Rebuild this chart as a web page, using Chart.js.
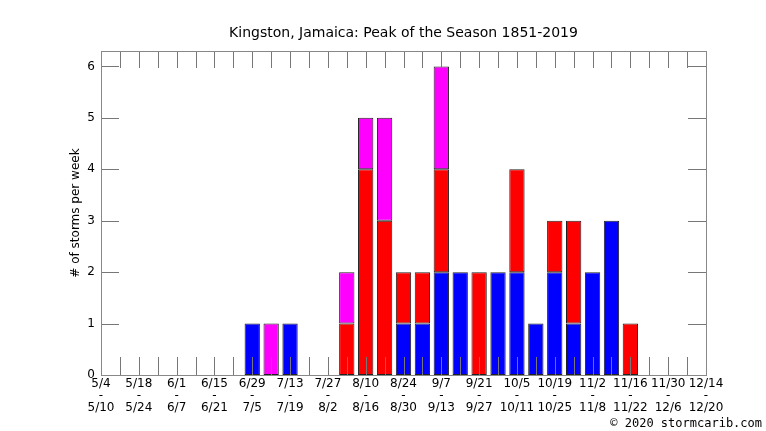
<!DOCTYPE html>
<html>
<head>
<meta charset="utf-8">
<script src="https://cdn.jsdelivr.net/npm/chart.js@4.4.1/dist/chart.umd.min.js"></script>
<style>
html,body{margin:0;padding:0;background:#fff;}
#wrap{width:766px;height:431px;position:relative;}
</style>
</head>
<body>
<div id="wrap"><canvas id="c" width="766" height="431"></canvas></div>
<script>
const weekStarts = ['5/4','5/11','5/18','5/25','6/1','6/8','6/15','6/22','6/29','7/6','7/13','7/20','7/27','8/3','8/10','8/17','8/24','8/31','9/7','9/14','9/21','9/28','10/5','10/12','10/19','10/26','11/2','11/9','11/16','11/23','11/30','12/7','12/14'];
const weekEnds = ['5/10','5/17','5/24','5/31','6/7','6/14','6/21','6/28','7/5','7/12','7/19','7/26','8/2','8/9','8/16','8/23','8/30','9/6','9/13','9/20','9/27','10/4','10/11','10/18','10/25','11/1','11/8','11/15','11/22','11/29','12/6','12/13','12/20'];
const blueCounts    = [0,0,0,0,0,0,0,0,1,0,1,0,0,0,0,0,1,1,2,2,0,2,2,1,2,1,2,3,0,0,0,0,0];
const redCounts     = [0,0,0,0,0,0,0,0,0,0,0,0,0,1,4,3,1,1,2,0,2,0,2,0,1,2,0,0,1,0,0,0,0];
const magentaCounts = [0,0,0,0,0,0,0,0,0,1,0,0,0,1,1,2,0,0,2,0,0,0,0,0,0,0,0,0,0,0,0,0,0];
const yTickValues = [0,1,2,3,4,5,6];
const chartTitle = 'Kingston, Jamaica: Peak of the Season 1851-2019';
const yTitle = '# of storms per week';
const credit = '\u00a9 2020 stormcarib.com';

const nz = a => a.map(v => v === 0 ? null : v);

const framePlugin = {
  id: 'frame',
  afterDatasetsDraw(chart) {
    const {ctx, chartArea: a, scales: {x, y}} = chart;
    ctx.save();
    ctx.strokeStyle = '#777';
    ctx.lineWidth = 1;
    ctx.beginPath();
    const n = weekStarts.length;
    for (let i = 0; i < n; i++) {
      const px = Math.round(x.getPixelForValue(i)) + 0.5;
      ctx.moveTo(px, a.bottom); ctx.lineTo(px, a.bottom - 18);
      ctx.moveTo(px, a.top); ctx.lineTo(px, a.top + 17);
    }
    yTickValues.forEach(v => {
      const py = Math.round(y.getPixelForValue(v)) + 0.5;
      ctx.moveTo(a.left, py); ctx.lineTo(a.left + 18, py);
      ctx.moveTo(a.right, py); ctx.lineTo(a.right - 18, py);
    });
    ctx.stroke();
    ctx.strokeStyle = '#888';
    ctx.strokeRect(Math.round(a.left) + 0.5, Math.round(a.top) + 0.5, Math.round(a.right - a.left), Math.round(a.bottom - a.top));
    ctx.fillStyle = '#000';
    ctx.textBaseline = 'middle';
    ctx.textAlign = 'center';
    ctx.font = '14px "DejaVu Sans"';
    ctx.fillText(chartTitle, (a.left + a.right) / 2, 33);
    ctx.font = '12px "DejaVu Sans Mono"';
    ctx.textAlign = 'right';
    ctx.fillText(credit, 762, 424);
    ctx.restore();
  }
};

new Chart(document.getElementById('c'), {
  type: 'bar',
  data: {
    labels: weekStarts,
    datasets: [
      {label: 'blue', data: nz(blueCounts), backgroundColor: '#0000ff'},
      {label: 'red', data: nz(redCounts), backgroundColor: '#ff0000'},
      {label: 'magenta', data: nz(magentaCounts), backgroundColor: '#ff00ff'}
    ]
  },
  options: {
    responsive: false,
    animation: false,
    layout: {padding: {left: 0, right: 60, top: 51, bottom: 0}},
    datasets: {bar: {borderColor: '#222', borderWidth: 1, borderSkipped: false, categoryPercentage: 1, barPercentage: 0.81}},
    plugins: {
      legend: {display: false},
      tooltip: {enabled: false},
      title: {display: false}
    },
    scales: {
      x: {
        type: 'category',
        stacked: true,
        offset: false,
        grid: {display: false, drawTicks: false},
        border: {display: false},
        afterFit(s) { s.height = 56; },
        ticks: {
          autoSkip: false, maxRotation: 0, minRotation: 0, padding: 3, color: '#000',
          font: {family: 'DejaVu Sans', size: 12, lineHeight: 0.98},
          callback: (v, i) => i % 2 === 0 ? [weekStarts[i], '-', weekEnds[i]] : ''
        }
      },
      y: {
        stacked: true,
        min: 0, max: 6.3,
        grid: {display: false, drawTicks: false},
        border: {display: false},
        afterFit(s) { s.width = 101; },
        ticks: {stepSize: 1, includeBounds: false, padding: 6, color: '#000', font: {family: 'DejaVu Sans', size: 12}},
        title: {display: true, text: yTitle, color: '#000', font: {family: 'DejaVu Sans', size: 12}, padding: {top: 69, bottom: 0}}
      }
    }
  },
  plugins: [framePlugin]
});
</script>
</body>
</html>
